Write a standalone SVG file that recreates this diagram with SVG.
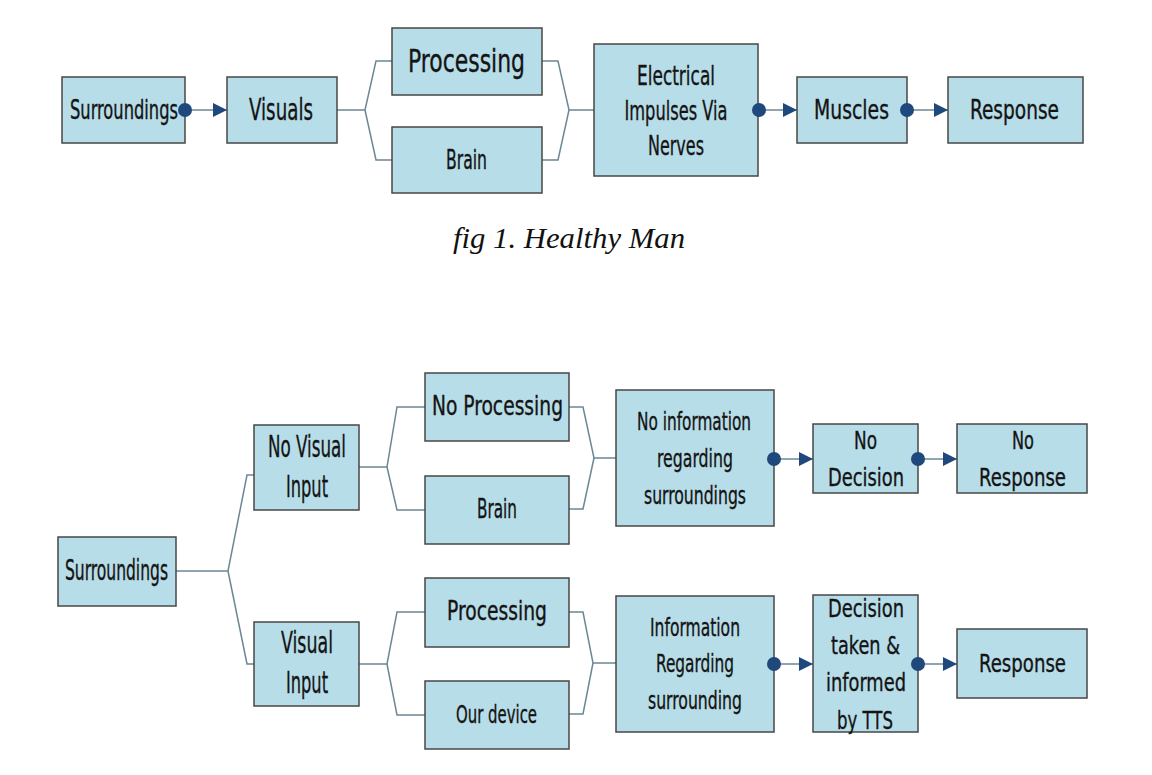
<svg xmlns="http://www.w3.org/2000/svg" width="1152" height="775" viewBox="0 0 1152 775">
<defs>
<style>
.box{fill:#b7dde8;stroke:#474747;stroke-width:1.5}
.t{font-family:"DejaVu Sans Condensed","Liberation Sans Narrow","Liberation Sans",sans-serif;font-stretch:condensed;fill:#141414;stroke:#141414;stroke-width:0.35;text-anchor:middle}
.ln{fill:none;stroke:#6b8795;stroke-width:1.5}
.dot{fill:#1f497d}
.cap{font-family:"Liberation Serif","Times New Roman",serif;font-style:italic;font-size:29px;fill:#111;text-anchor:middle}
</style>
<marker id="arr" markerWidth="14" markerHeight="14" refX="14" refY="7" orient="auto" markerUnits="userSpaceOnUse">
<path d="M0,0 L14,7 L0,14 Z" fill="#1f497d"/>
</marker>
</defs>
<rect width="1152" height="775" fill="#ffffff"/>

<g id="connectors">
<line class="ln" x1="185" y1="110" x2="227" y2="110" marker-end="url(#arr)"/>
<polyline class="ln" points="337,110 365,110 376,61 392,61"/>
<polyline class="ln" points="365,110 376,160 392,160"/>
<polyline class="ln" points="542,61 558,61 569,110 594,110"/>
<polyline class="ln" points="542,160 558,160 569,110"/>
<line class="ln" x1="759" y1="110" x2="797" y2="110" marker-end="url(#arr)"/>
<line class="ln" x1="907" y1="110" x2="948" y2="110" marker-end="url(#arr)"/>
<polyline class="ln" points="176,571 228,571 247,475 254,475"/>
<polyline class="ln" points="228,571 247,664 254,664"/>
<polyline class="ln" points="359,467 387,467 397,407 425,407"/>
<polyline class="ln" points="387,467 397,510 425,510"/>
<polyline class="ln" points="359,664 387,664 397,612 425,612"/>
<polyline class="ln" points="387,664 397,715 425,715"/>
<polyline class="ln" points="569,407 583,407 594,458 616,458"/>
<polyline class="ln" points="569,509 583,509 594,458"/>
<polyline class="ln" points="569,612 583,612 593,663 616,663"/>
<polyline class="ln" points="569,714 583,714 593,663"/>
<line class="ln" x1="774" y1="459" x2="813" y2="459" marker-end="url(#arr)"/>
<line class="ln" x1="918" y1="459" x2="957" y2="459" marker-end="url(#arr)"/>
<line class="ln" x1="774" y1="664" x2="813" y2="664" marker-end="url(#arr)"/>
<line class="ln" x1="918" y1="664" x2="957" y2="664" marker-end="url(#arr)"/>
</g>

<g id="t-surroundings"><rect class="box" x="62" y="77" width="123" height="66"/>
<text class="t" x="124" y="119" font-size="26" textLength="108" lengthAdjust="spacingAndGlyphs">Surroundings</text></g>
<g id="t-visuals"><rect class="box" x="227" y="77" width="110" height="66"/>
<text class="t" x="281" y="120" font-size="31" textLength="64" lengthAdjust="spacingAndGlyphs">Visuals</text></g>
<g id="t-processing"><rect class="box" x="392" y="28" width="150" height="67"/>
<text class="t" x="466.5" y="72" font-size="32" textLength="117" lengthAdjust="spacingAndGlyphs">Processing</text></g>
<g id="t-brain"><rect class="box" x="392" y="127" width="150" height="66"/>
<text class="t" x="466.5" y="169" font-size="26" textLength="41" lengthAdjust="spacingAndGlyphs">Brain</text></g>
<g id="t-electrical"><rect class="box" x="594" y="44" width="164" height="132"/>
<text class="t" x="676" y="84.5" font-size="26" textLength="78" lengthAdjust="spacingAndGlyphs">Electrical</text>
<text class="t" x="676" y="119.5" font-size="26" textLength="103" lengthAdjust="spacingAndGlyphs">Impulses Via</text>
<text class="t" x="676" y="154.5" font-size="26" textLength="56" lengthAdjust="spacingAndGlyphs">Nerves</text></g>
<g id="t-muscles"><rect class="box" x="797" y="77" width="110" height="66"/>
<text class="t" x="851.5" y="119" font-size="26" textLength="75" lengthAdjust="spacingAndGlyphs">Muscles</text></g>
<g id="t-response"><rect class="box" x="948" y="77" width="135" height="66"/>
<text class="t" x="1014.5" y="119" font-size="26" textLength="89" lengthAdjust="spacingAndGlyphs">Response</text></g>
<g id="t-dots">
<circle class="dot" cx="185" cy="110" r="7"/>
<circle class="dot" cx="759" cy="110" r="7"/>
<circle class="dot" cx="907" cy="110" r="7"/>
</g>

<text class="cap" x="569" y="248" textLength="232" lengthAdjust="spacingAndGlyphs">fig 1. Healthy Man</text>

<g id="b-surroundings"><rect class="box" x="58" y="537" width="118" height="69"/>
<text class="t" x="116.5" y="580" font-size="28" textLength="103" lengthAdjust="spacingAndGlyphs">Surroundings</text></g>
<g id="b-novisual"><rect class="box" x="254" y="425" width="105" height="85"/>
<text class="t" x="307" y="457" font-size="31" textLength="78" lengthAdjust="spacingAndGlyphs">No Visual</text>
<text class="t" x="307" y="497" font-size="31" textLength="42" lengthAdjust="spacingAndGlyphs">Input</text></g>
<g id="b-visual"><rect class="box" x="254" y="622" width="105" height="84"/>
<text class="t" x="307" y="653" font-size="31" textLength="52" lengthAdjust="spacingAndGlyphs">Visual</text>
<text class="t" x="307" y="693" font-size="31" textLength="42" lengthAdjust="spacingAndGlyphs">Input</text></g>
<g id="b-noprocessing"><rect class="box" x="425" y="373" width="144" height="68"/>
<text class="t" x="497.5" y="415" font-size="27" textLength="131" lengthAdjust="spacingAndGlyphs">No Processing</text></g>
<g id="b-brain"><rect class="box" x="425" y="476" width="144" height="68"/>
<text class="t" x="497" y="518" font-size="26" textLength="40" lengthAdjust="spacingAndGlyphs">Brain</text></g>
<g id="b-processing"><rect class="box" x="425" y="578" width="144" height="69"/>
<text class="t" x="497" y="620" font-size="26" textLength="100" lengthAdjust="spacingAndGlyphs">Processing</text></g>
<g id="b-ourdevice"><rect class="box" x="425" y="681" width="144" height="68"/>
<text class="t" x="496.5" y="723" font-size="25" textLength="81" lengthAdjust="spacingAndGlyphs">Our device</text></g>
<g id="b-noinfo"><rect class="box" x="616" y="390" width="158" height="136"/>
<text class="t" x="694" y="430" font-size="25" textLength="114" lengthAdjust="spacingAndGlyphs">No information</text>
<text class="t" x="695" y="467" font-size="25" textLength="76" lengthAdjust="spacingAndGlyphs">regarding</text>
<text class="t" x="695" y="504" font-size="25" textLength="102" lengthAdjust="spacingAndGlyphs">surroundings</text></g>
<g id="b-info"><rect class="box" x="616" y="596" width="158" height="136"/>
<text class="t" x="695" y="636" font-size="25" textLength="90" lengthAdjust="spacingAndGlyphs">Information</text>
<text class="t" x="695" y="672" font-size="25" textLength="78" lengthAdjust="spacingAndGlyphs">Regarding</text>
<text class="t" x="695" y="709" font-size="25" textLength="94" lengthAdjust="spacingAndGlyphs">surrounding</text></g>
<g id="b-nodecision"><rect class="box" x="813" y="424" width="105" height="69"/>
<text class="t" x="865.5" y="449" font-size="25" textLength="23" lengthAdjust="spacingAndGlyphs">No</text>
<text class="t" x="866" y="486" font-size="25" textLength="76" lengthAdjust="spacingAndGlyphs">Decision</text></g>
<g id="b-noresponse"><rect class="box" x="957" y="424" width="130" height="69"/>
<text class="t" x="1023" y="449" font-size="25" textLength="22" lengthAdjust="spacingAndGlyphs">No</text>
<text class="t" x="1022.5" y="486" font-size="25" textLength="87" lengthAdjust="spacingAndGlyphs">Response</text></g>
<g id="b-decision"><rect class="box" x="813" y="595" width="105" height="137"/>
<text class="t" x="866" y="617" font-size="25" textLength="76" lengthAdjust="spacingAndGlyphs">Decision</text>
<text class="t" x="865.5" y="654" font-size="25" textLength="69" lengthAdjust="spacingAndGlyphs">taken &amp;</text>
<text class="t" x="866" y="691" font-size="25" textLength="80" lengthAdjust="spacingAndGlyphs">informed</text>
<text class="t" x="865" y="729" font-size="25" textLength="56" lengthAdjust="spacingAndGlyphs">by TTS</text></g>
<g id="b-response"><rect class="box" x="957" y="629" width="130" height="69"/>
<text class="t" x="1022.5" y="672" font-size="25" textLength="87" lengthAdjust="spacingAndGlyphs">Response</text></g>
<g id="b-dots">
<circle class="dot" cx="774" cy="459" r="7"/>
<circle class="dot" cx="918" cy="459" r="7"/>
<circle class="dot" cx="774" cy="664" r="7"/>
<circle class="dot" cx="918" cy="664" r="7"/>
</g>
</svg>
